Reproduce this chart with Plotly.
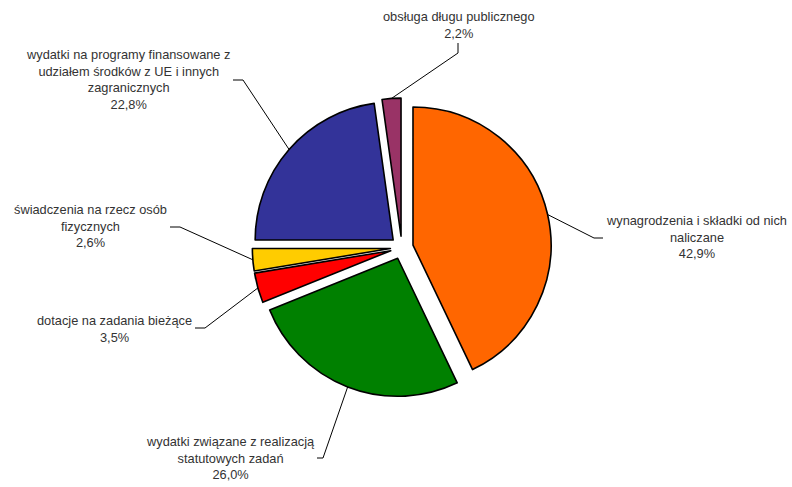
import math
import plotly.graph_objects as go

# ---- data ----
categories = [
    "wynagrodzenia i składki od nich<br>naliczane",
    "wydatki związane z realizacją<br>statutowych zadań",
    "dotacje na zadania bieżące",
    "świadczenia na rzecz osób<br>fizycznych",
    "wydatki na programy finansowane z<br>udziałem środków z UE i innych<br>zagranicznych",
    "obsługa długu publicznego",
]
shares = [42.9, 26.0, 3.5, 2.6, 22.8, 2.2]
colors = ["#FF6600", "#008000", "#FF0000", "#FFCC00", "#333399", "#993366"]

# ---- layout settings ----
W, H = 792, 487
PULL = 0.083
DOM_X = [0.3186, 0.6961]
DOM_Y = [0.1846, 0.7986]
# label centre (px) and elbow points of leader lines (px)
label_pos = [(696, 237.5), (230, 457.5), (114, 328.5), (90, 226), (128, 79.5), (459, 24.5)]
elbows = [
    [(594, 238), (603, 238)],
    [(323, 458), (317, 458)],
    [(205, 328), (195, 328)],
    [(180, 227), (170, 227)],
    [(243, 80), (233, 80)],
    [(458, 53), (458, 43)],
]

fig = go.Figure(go.Pie(
    labels=[c.replace("<br>", " ") for c in categories],
    values=shares,
    sort=False,
    direction="clockwise",
    rotation=0,
    pull=[PULL] * len(shares),
    marker=dict(colors=colors, line=dict(color="black", width=1.6)),
    textinfo="none",
    hoverinfo="label+percent",
    domain=dict(x=DOM_X, y=DOM_Y),
    showlegend=False,
))

# pie geometry as plotly computes it
dw = (DOM_X[1] - DOM_X[0]) * W
dh = (DOM_Y[1] - DOM_Y[0]) * H
cx = (DOM_X[0] + DOM_X[1]) / 2 * W
cy = H - (DOM_Y[0] + DOM_Y[1]) / 2 * H
r = min(dw, dh) / 2 / (1 + PULL)

def px2paper(x, y):
    return x / W, 1 - y / H

total = sum(shares)
cum = 0.0
shapes = []
annotations = []
for i, v in enumerate(shares):
    mid = (cum + v / 2) / total * 2 * math.pi
    cum += v
    dx, dy = math.sin(mid), -math.cos(mid)
    vx, vy = cx + PULL * r * dx, cy + PULL * r * dy
    ax, ay = vx + r * dx, vy + r * dy
    pts = [(ax, ay)] + elbows[i]
    for (x0, y0), (x1, y1) in zip(pts[:-1], pts[1:]):
        p0 = px2paper(x0, y0)
        p1 = px2paper(x1, y1)
        shapes.append(dict(type="line", xref="paper", yref="paper",
                           x0=p0[0], y0=p0[1], x1=p1[0], y1=p1[1],
                           line=dict(color="black", width=1)))
    lx, ly = px2paper(*label_pos[i])
    txt = categories[i] + "<br>" + f"{v:.1f}".replace(".", ",") + "%"
    annotations.append(dict(x=lx, y=ly, xref="paper", yref="paper",
                            text=txt, showarrow=False,
                            xanchor="center", yanchor="middle", align="center",
                            font=dict(family="Liberation Sans, Arial", size=12.8, color="#333333")))

fig.update_layout(
    width=W, height=H,
    margin=dict(l=0, r=0, t=0, b=0),
    paper_bgcolor="white",
    plot_bgcolor="white",
    shapes=shapes,
    annotations=annotations,
)

fig.write_html("out.html", config={"displayModeBar": False},
               post_script="document.body.style.margin='0';")
